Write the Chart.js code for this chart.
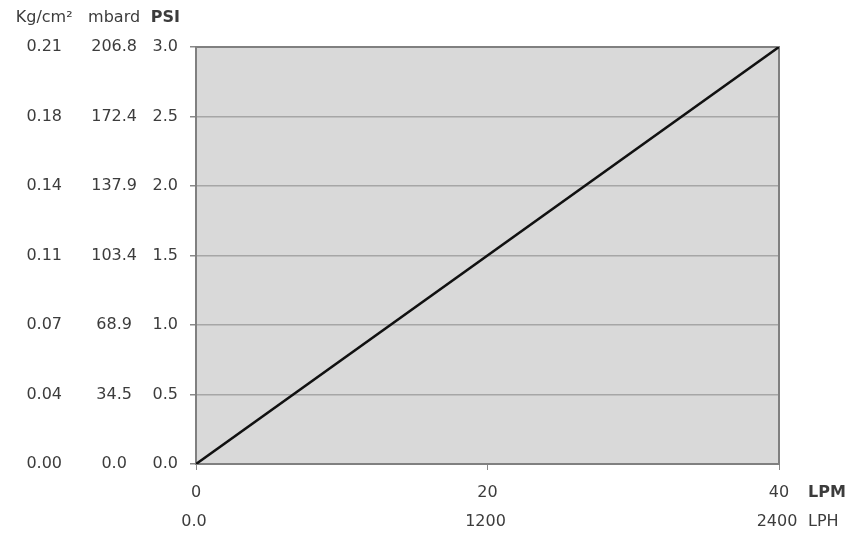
<!DOCTYPE html>
<html>
<head>
<meta charset="utf-8">
<script src="https://cdn.jsdelivr.net/npm/chart.js@4"></script>
<style>
  body { margin: 0; background: #fff; }
  #wrap { width: 850px; height: 533px; }
</style>
</head>
<body>
<div id="wrap"><canvas id="chart"></canvas></div>
<script>
// flow (LPM) vs pressure (PSI)
const lpm = [0, 40]
const psi = [0, 3.0]

// tick labels for each scale
const psiTicks = ["0.0", "0.5", "1.0", "1.5", "2.0", "2.5", "3.0"]
const mbardTicks = ["0.0", "34.5", "68.9", "103.4", "137.9", "172.4", "206.8"]
const kgTicks = ["0.00", "0.04", "0.07", "0.11", "0.14", "0.18", "0.21"]
const lpmTicks = ["0", "20", "40"]
const lphTicks = ["0.0", "1200", "2400"]

const textColor = '#3c3c3c'
const font = { family: 'DejaVu Sans', size: 16 }

// gray plot background + frame
const plotFrame = {
  id: 'plotFrame',
  beforeDraw(chart) {
    const { ctx, chartArea: a } = chart
    ctx.save()
    ctx.fillStyle = '#d9d9d9'
    ctx.fillRect(a.left, a.top, a.right - a.left, a.bottom - a.top)
    ctx.restore()
  },
  beforeDatasetsDraw(chart) {
    const { ctx, chartArea: a } = chart
    ctx.save()
    ctx.strokeStyle = '#808080'
    ctx.lineWidth = 2
    ctx.strokeRect(a.left, a.top, a.right - a.left, a.bottom - a.top)
    ctx.restore()
  }
}

// unit headers above the left scales and to the right of the bottom scales
const unitLabels = {
  id: 'unitLabels',
  afterDraw(chart) {
    const { ctx, scales } = chart
    ctx.save()
    ctx.fillStyle = textColor
    const heads = [['yKg', 'Kg/cm²', false], ['yMbar', 'mbard', false], ['y', 'PSI', true]]
    heads.forEach(([id, txt, bold]) => {
      const it = scales[id].getLabelItems()[0]
      ctx.font = (bold ? 'bold ' : '') + font.size + 'px "' + font.family + '"'
      ctx.textAlign = 'center'
      ctx.textBaseline = 'middle'
      ctx.fillText(txt, it.options.translation[0], 18)
    })
    const tails = [['x', 'LPM', true], ['xLph', 'LPH', false]]
    tails.forEach(([id, txt, bold]) => {
      const items = scales[id].getLabelItems()
      const it = items[items.length - 1]
      ctx.font = (bold ? 'bold ' : '') + font.size + 'px "' + font.family + '"'
      ctx.textAlign = 'left'
      ctx.textBaseline = it.options.textBaseline
      ctx.fillText(txt, chart.chartArea.right + 29, it.options.translation[1] + (it.textOffset || 0))
    })
    ctx.restore()
  }
}

const fixWidth = (w) => (scale) => { scale.width = w }
const fixHeight = (h) => (scale) => { scale.height = h }

new Chart(document.getElementById('chart'), {
  type: 'line',
  data: {
    datasets: [{
      data: lpm.map((v, i) => ({ x: v, y: psi[i] })),
      borderColor: '#111',
      borderWidth: 2.6,
      pointRadius: 0,
      fill: false,
      xAxisID: 'x',
      yAxisID: 'y'
    }]
  },
  options: {
    responsive: true,
    maintainAspectRatio: false,
    animation: false,
    layout: { padding: { top: 47, right: 71, left: 0, bottom: 0 } },
    plugins: { legend: { display: false }, tooltip: { enabled: false } },
    scales: {
      x: {
        type: 'linear', position: 'bottom', min: 0, max: 40, weight: 0,
        ticks: { stepSize: 20, color: textColor, font: font, padding: 13, maxRotation: 0,
                 callback: (v, i) => lpmTicks[i] },
        grid: { drawOnChartArea: false, tickLength: 6, tickColor: '#888' },
        border: { display: false },
        afterFit: fixHeight(41)
      },
      xLph: {
        type: 'linear', position: 'bottom', min: 0, max: 2400, weight: 1,
        ticks: { stepSize: 1200, color: textColor, font: font, padding: 7, maxRotation: 0, labelOffset: -2,
                 callback: (v, i) => lphTicks[i] },
        grid: { display: false, drawTicks: false },
        border: { display: false },
        afterFit: fixHeight(28)
      },
      y: {
        type: 'linear', position: 'left', min: 0, max: 3, weight: 0,
        ticks: { stepSize: 0.5, color: textColor, font: font, padding: 12, crossAlign: 'center',
                 callback: (v, i) => psiTicks[i] },
        grid: { color: '#a6a6a6', lineWidth: 1.5, tickLength: 6, tickColor: '#888' },
        border: { display: false },
        afterFit: fixWidth(50)
      },
      yMbar: {
        type: 'linear', position: 'left', min: 0, max: 3, weight: 1,
        ticks: { stepSize: 0.5, color: textColor, font: font, padding: 9, crossAlign: 'center',
                 callback: (v, i) => mbardTicks[i] },
        grid: { display: false, drawTicks: false },
        border: { display: false },
        afterFit: fixWidth(66)
      },
      yKg: {
        type: 'linear', position: 'left', min: 0, max: 3, weight: 2,
        ticks: { stepSize: 0.5, color: textColor, font: font, padding: 18, crossAlign: 'center',
                 callback: (v, i) => kgTicks[i] },
        grid: { display: false, drawTicks: false },
        border: { display: false },
        afterFit: fixWidth(80)
      }
    }
  },
  plugins: [plotFrame, unitLabels]
});
</script>
</body>
</html>
